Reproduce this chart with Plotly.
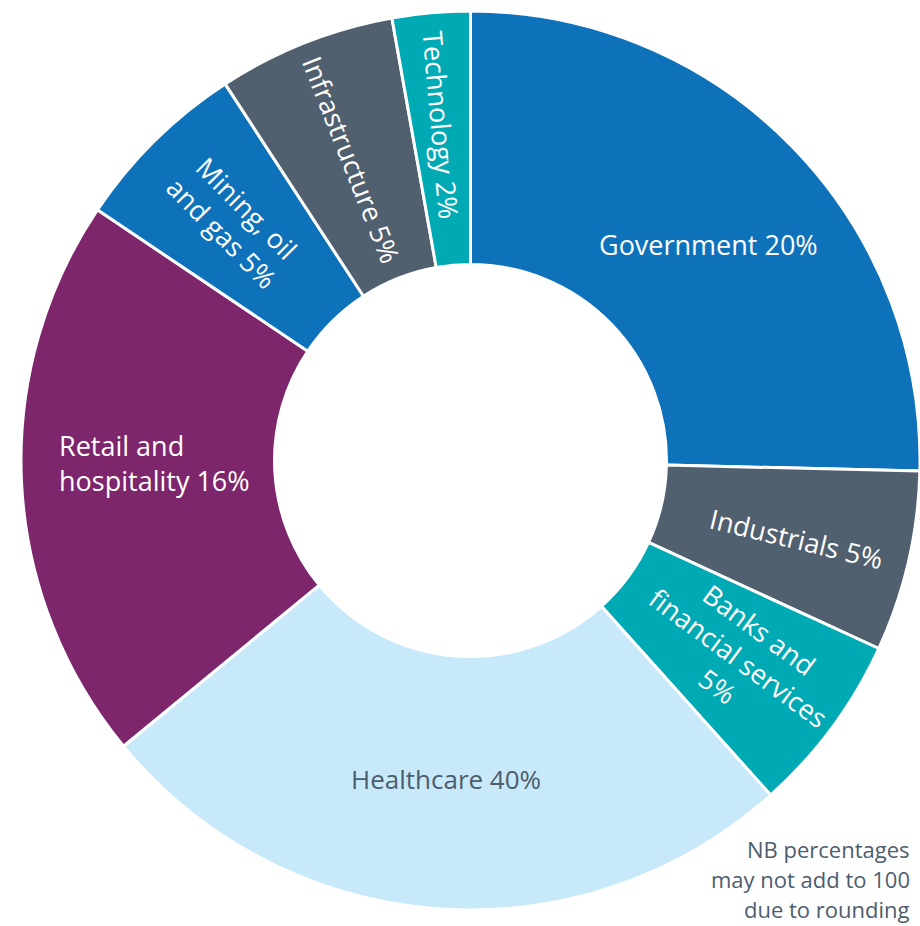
import numpy as np
import plotly.graph_objects as go

# ---- data ----
sectors = ["Government", "Industrials", "Banks and financial services", "Healthcare",
           "Retail and hospitality", "Mining, oil and gas", "Infrastructure", "Technology"]
label_pct = [20, 5, 5, 40, 16, 5, 5, 2]
# slice sizes as drawn in the picture (share of the full circle, %)
slice_share = [25.4, 6.5, 6.5, 25.7, 20.4, 6.4, 6.4, 2.8]
label_lines = [["Government"], ["Industrials"], ["Banks and", "financial services"],
               ["Healthcare"], ["Retail and", "hospitality"], ["Mining, oil", "and gas"],
               ["Infrastructure"], ["Technology"]]
pct_on_own_line = [False, False, True, False, False, False, False, False]
note_lines = ["NB percentages", "may not add to 100", "due to rounding"]

# ---- style ----
colors = ["#0E72BB", "#51606F", "#00AAB4", "#C7E9F9", "#7D266C", "#0E72BB", "#51606F", "#00AAB4"]
text_colors = ["white", "white", "white", "#4D5D6E", "white", "white", "white", "white"]
orientation = ["horizontal", "radial", "radial", "horizontal", "horizontal", "radial", "radial", "radial"]
label_radius = [0.715, 0.745, 0.74, 0.71, 0.92, 0.75, 0.72, 0.75]
label_shift = [2.0, 0.5, 0.0, 0.0, 2.4, 0.0, 0.0, 0.0]   # degrees
label_size = [27, 27, 27, 26, 27, 27, 27, 27]
anchor = ["center", "center", "center", "center", "left", "center", "center", "center"]
FONT = "Open Sans, Noto Sans, sans-serif"
HOLE = 0.436

W, H = 920, 926
ML, MR, MT, MB = 21, 0, 11, 16
PW, PH = W - ML - MR, H - MT - MB
R = min(PW, PH) / 2.0
CX, CY = ML + PW / 2.0, MT + PH / 2.0


def to_paper(px, py):
    return (px - ML) / PW, (H - MB - py) / PH


fig = go.Figure(go.Pie(
    values=slice_share, labels=sectors, sort=False, direction="clockwise", rotation=0,
    hole=HOLE, textinfo="none", hoverinfo="label", showlegend=False,
    marker=dict(colors=colors, line=dict(color="white", width=3)),
))

vals = np.array(slice_share, dtype=float)
cum = np.cumsum(vals)
mid_deg = (cum - vals / 2) / vals.sum() * 360.0

annotations = []
for i, name in enumerate(sectors):
    d = mid_deg[i] + label_shift[i]
    th = np.deg2rad(d)
    rr = label_radius[i]
    cx = CX + rr * R * np.sin(th)
    cy = CY - rr * R * np.cos(th)
    if orientation[i] == "radial":
        ang = d - 90 if d < 180 else d - 270
    else:
        ang = 0.0
    lines = list(label_lines[i])
    pct = f"{label_pct[i]}%"
    if pct_on_own_line[i]:
        lines.append(pct)
    else:
        lines[-1] = lines[-1] + " " + pct
    x, y = to_paper(cx, cy)
    annotations.append(dict(
        x=x, y=y, xref="paper", yref="paper", text="<br>".join(lines),
        showarrow=False, textangle=ang, xanchor=anchor[i], yanchor="middle",
        align="left" if anchor[i] == "left" else "center",
        font=dict(family=FONT, size=label_size[i], color=text_colors[i]),
    ))

# footnote, right aligned in the lower-right corner
for k, ln in enumerate(note_lines):
    x, y = to_paper(912, 849 + 30 * k)
    annotations.append(dict(
        x=x, y=y, xref="paper", yref="paper", text=ln, showarrow=False,
        xanchor="right", yanchor="middle",
        font=dict(family=FONT, size=22, color="#4D5D6E"),
    ))

fig.update_layout(
    width=W, height=H, margin=dict(l=ML, r=MR, t=MT, b=MB),
    paper_bgcolor="white", plot_bgcolor="white", annotations=annotations,
)

fig.write_html("out.html")
